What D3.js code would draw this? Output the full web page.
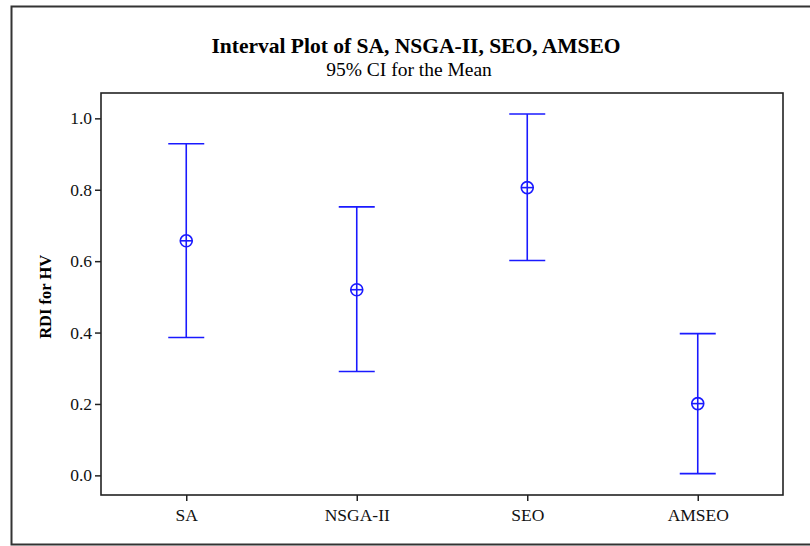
<!DOCTYPE html>
<html>
<head>
<meta charset="utf-8">
<script src="https://cdn.jsdelivr.net/npm/d3@7"></script>
<style>
  body { margin: 0; background: #fff; }
  svg { display: block; font-family: "Liberation Serif", "Times New Roman", serif; }
</style>
</head>
<body>
<div id="chart"></div>
<script>
// data
var methods = ["SA", "NSGA-II", "SEO", "AMSEO"],
    means = [0.657, 0.520, 0.806, 0.201],
    lower = [0.386, 0.291, 0.602, 0.005],
    upper = [0.929, 0.752, 1.012, 0.397],
    yTicks = [0.0, 0.2, 0.4, 0.6, 0.8, 1.0];

var width = 810, height = 546;
var margin = {top: 93, right: 27, bottom: 51, left: 101},
    plotW = width - margin.left - margin.right,
    plotH = height - margin.top - margin.bottom;

var svg = d3.select("#chart").append("svg")
    .attr("width", width)
    .attr("height", height);

// outer frame
svg.append("path")
    .attr("d", "M811,6.5 H11.5 V544.5 H811")
    .attr("fill", "none")
    .attr("stroke", "#333")
    .attr("stroke-width", 2);

svg.append("text")
    .attr("x", 416).attr("y", 53)
    .attr("text-anchor", "middle")
    .style("font-size", "21.5px").attr("font-weight", "bold")
    .text("Interval Plot of SA, NSGA-II, SEO, AMSEO");

svg.append("text")
    .attr("x", 409).attr("y", 76)
    .attr("text-anchor", "middle")
    .style("font-size", "19.5px")
    .text("95% CI for the Mean");

var g = svg.append("g")
    .attr("transform", "translate(" + margin.left + "," + margin.top + ")");

var x = d3.scalePoint()
    .domain(methods)
    .range([0, plotW])
    .padding(0.5);

var y = d3.scaleLinear()
    .domain([-0.055, 1.071])
    .range([plotH, 0]);

g.append("g")
    .attr("class", "axis axis-y")
    .call(d3.axisLeft(y).tickValues(yTicks).tickSizeInner(6).tickSizeOuter(0).tickPadding(3).tickFormat(d3.format(".1f")));

g.append("g")
    .attr("class", "axis axis-x")
    .attr("transform", "translate(0," + plotH + ")")
    .call(d3.axisBottom(x).tickSizeInner(6).tickSizeOuter(0).tickPadding(8));

g.selectAll(".axis path.domain").remove();
g.selectAll(".axis line").attr("stroke", "#222").attr("stroke-width", 1.5);
g.selectAll(".axis").attr("font-family", null).attr("font-size", null);
g.selectAll(".axis text").style("font-size", "17.5px").attr("fill", "#111");

g.append("rect")
    .attr("width", plotW).attr("height", plotH)
    .attr("fill", "none")
    .attr("stroke", "#222")
    .attr("stroke-width", 1.6);

svg.append("text")
    .attr("transform", "translate(51," + (margin.top + y(0.5)) + ") rotate(-90)")
    .attr("text-anchor", "middle")
    .style("font-size", "16.5px").attr("font-weight", "bold")
    .text("RDI for HV");

var blue = "#1a1aff", cap = 18, r = 6;

var bar = g.selectAll(".ci")
    .data(methods)
  .enter().append("g")
    .attr("class", "ci")
    .attr("transform", function(d) { return "translate(" + x(d) + ",0)"; })
    .attr("stroke", blue)
    .attr("stroke-width", 1.6)
    .attr("fill", "none");

bar.append("line")
    .attr("y1", function(d, i) { return y(lower[i]); })
    .attr("y2", function(d, i) { return y(upper[i]); });
bar.append("line")
    .attr("x1", -cap).attr("x2", cap)
    .attr("y1", function(d, i) { return y(upper[i]); })
    .attr("y2", function(d, i) { return y(upper[i]); });
bar.append("line")
    .attr("x1", -cap).attr("x2", cap)
    .attr("y1", function(d, i) { return y(lower[i]); })
    .attr("y2", function(d, i) { return y(lower[i]); });
bar.append("circle")
    .attr("cy", function(d, i) { return y(means[i]); })
    .attr("r", r);
bar.append("line")
    .attr("x1", -r).attr("x2", r)
    .attr("y1", function(d, i) { return y(means[i]); })
    .attr("y2", function(d, i) { return y(means[i]); });
</script>
</body>
</html>
